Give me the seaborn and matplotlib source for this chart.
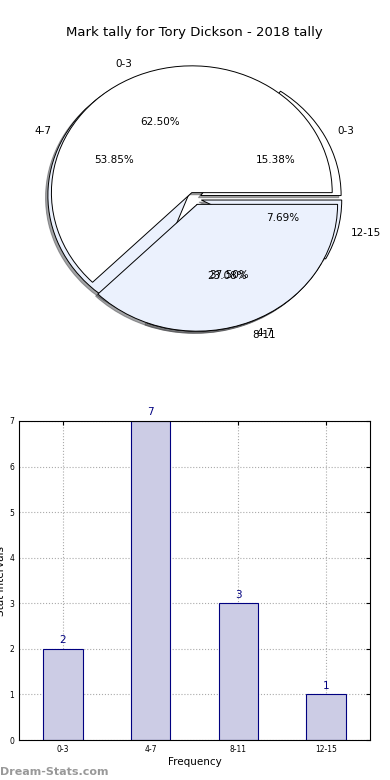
import numpy as np
import pandas as pd
import matplotlib
matplotlib.use('Agg')
import matplotlib.pyplot as plt
import seaborn as sns

# tally of marks by interval (13 marks)
intervals = ['0-3', '4-7', '8-11', '12-15']
counts = [2, 7, 3, 1]
# second (overlaid) pie from the same page
pie2_labels = ['0-3', '4-7']
pie2_counts = [5, 3]

title = 'Mark tally for Tory Dickson - 2018 tally'
pie_colors = ['#ffffff', '#ebf1fd']

sns.set_style('white')
plt.rcParams['font.family'] = ['DejaVu Sans']
plt.rcParams['text.color'] = 'black'
plt.rcParams['axes.labelcolor'] = 'black'
plt.rcParams['xtick.color'] = 'black'
plt.rcParams['ytick.color'] = 'black'

fig = plt.figure(figsize=(3.9, 7.8), dpi=100)

# top: pie chart(s) - old matplotlib style, not forced to equal aspect
shadow = {'ox': -0.012, 'oy': -0.012}
ax1 = fig.add_axes([19/390, 1 - 357/780, 351/390, 317/780])
ax1.pie(counts, labels=intervals, autopct='%1.2f%%', explode=[0.05]*len(counts),
        colors=[pie_colors[i % 2] for i in range(len(counts))], shadow=shadow,
        wedgeprops={'edgecolor': 'black', 'linewidth': 0.7},
        textprops={'fontsize': 7.5})
ax1.pie(pie2_counts, labels=pie2_labels, autopct='%1.2f%%', explode=[0.05]*len(pie2_counts),
        colors=pie_colors, shadow=shadow,
        wedgeprops={'edgecolor': 'black', 'linewidth': 0.7},
        textprops={'fontsize': 7.5})
ax1.set_aspect('auto')
ax1.set_xlim(-1.25, 1.25)
ax1.set_ylim(-1.25, 1.25)
ax1.set_title(title, fontsize=9.5, pad=3)

# bottom: bar chart
df = pd.DataFrame({'interval': intervals, 'count': counts})
ax2 = fig.add_axes([19/390, 40/780, 351/390, 319/780])
sns.barplot(data=df, x='interval', y='count', color='#ccccE5', width=0.45,
            edgecolor='navy', linewidth=0.8, saturation=1, ax=ax2)
for p, v in zip(ax2.patches, counts):
    ax2.text(p.get_x() + p.get_width()/2, v + 0.08, str(v), ha='center', va='bottom',
             color='navy', fontsize=7.5)
ax2.set_xlim(-0.5, 3.5)
ax2.set_ylim(0, 7)
ax2.set_yticks(range(0, 8))
ax2.grid(True, linestyle=':', color='#aaaaaa', linewidth=0.8)
ax2.set_axisbelow(True)
ax2.tick_params(direction='in', top=True, right=True, labelsize=5.5, length=3)
for s in ax2.spines.values():
    s.set_color('black')
    s.set_linewidth(0.8)
ax2.set_xlabel('Frequency', fontsize=7.5, labelpad=2)
ax2.set_ylabel('Stat Intervals', fontsize=7.5, labelpad=2)

fig.text(0.0, 0.004, 'Dream-Stats.com', fontsize=8, color='#999999', fontweight='bold',
         ha='left', va='bottom')

fig.savefig('out.png', dpi=100)
